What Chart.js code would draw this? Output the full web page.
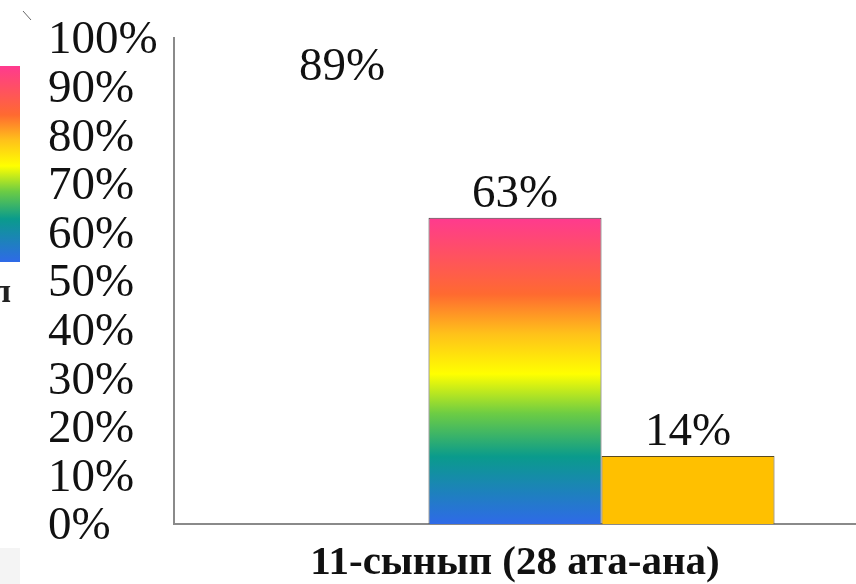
<!DOCTYPE html>
<html>
<head>
<meta charset="utf-8">
<script src="https://cdn.jsdelivr.net/npm/chart.js@4.4.1/dist/chart.umd.min.js"></script>
<style>
  html, body { margin: 0; padding: 0; background: #ffffff; }
  #wrap { position: relative; width: 856px; height: 584px; }
</style>
</head>
<body>
<div id="wrap"><canvas id="c" width="856" height="584"></canvas></div>
<script>
// ---- data ----
const categories = ['11-сынып (28 ата-ана)'];
const seriesHidden = [89];   // first bar (drawn white in the original)
const seriesRainbow = [63];
const seriesGold = [14];
const valueLabels = ['89%', '63%', '14%'];

const SERIF = "'Liberation Serif', 'Times New Roman', serif";

function rainbow(ctx) {
  const chart = ctx.chart;
  const y = chart.scales && chart.scales.y;
  if (!y || !chart.chartArea) return '#ff6a30';
  const top = y.getPixelForValue(seriesRainbow[ctx.dataIndex]);
  const bottom = y.getPixelForValue(0);
  const g = chart.ctx.createLinearGradient(0, bottom, 0, top);
  g.addColorStop(0.00, '#2f6ae8');
  g.addColorStop(0.22, '#0a9b8c');
  g.addColorStop(0.36, '#6ccc44');
  g.addColorStop(0.49, '#ffff00');
  g.addColorStop(0.62, '#ffc21a');
  g.addColorStop(0.75, '#ff6a30');
  g.addColorStop(1.00, '#ff3a8f');
  return g;
}

const valueLabelPlugin = {
  id: 'valueLabels',
  afterDatasetsDraw(chart) {
    const c = chart.ctx;
    c.save();
    c.font = '47px ' + SERIF;
    c.fillStyle = '#111111';
    c.textAlign = 'center';
    c.textBaseline = 'alphabetic';
    chart.data.datasets.forEach((ds, i) => {
      const meta = chart.getDatasetMeta(i);
      meta.data.forEach((bar) => {
        c.fillText(valueLabels[i], bar.x, bar.y - 11);
      });
    });
    c.restore();
  }
};

// cropped legend fragments visible at the left edge of the original picture
const edgePlugin = {
  id: 'edge',
  beforeDraw(chart) {
    const c = chart.ctx;
    c.save();
    const g = c.createLinearGradient(0, 262, 0, 66);
    g.addColorStop(0.00, '#2f6ae8');
    g.addColorStop(0.22, '#0a9b8c');
    g.addColorStop(0.36, '#6ccc44');
    g.addColorStop(0.49, '#ffff00');
    g.addColorStop(0.62, '#ffc21a');
    g.addColorStop(0.75, '#ff6a30');
    g.addColorStop(1.00, '#ff3a8f');
    c.fillStyle = g;
    c.fillRect(0, 66, 20, 196);
    c.fillStyle = '#f4f4f4';
    c.fillRect(0, 548, 20, 36);
    c.font = 'bold 34px ' + SERIF;
    c.fillStyle = '#222';
    c.textBaseline = 'alphabetic';
    c.fillText('л', -8, 302);
    c.strokeStyle = '#666';
    c.lineWidth = 1;
    c.beginPath();
    c.moveTo(23, 11); c.lineTo(31, 20);
    c.stroke();
    c.restore();
  }
};

new Chart(document.getElementById('c'), {
  type: 'bar',
  data: {
    labels: categories,
    datasets: [
      { data: seriesHidden, backgroundColor: 'rgba(255,255,255,0)', borderWidth: 0 },
      { data: seriesRainbow, backgroundColor: rainbow, borderColor: '#444444', borderWidth: 1 },
      { data: seriesGold, backgroundColor: '#ffc000', borderColor: '#5a4a20', borderWidth: 1 }
    ]
  },
  options: {
    responsive: false,
    animation: false,
    events: [],
    layout: { padding: { left: 48, top: 38, right: 0, bottom: 0 } },
    plugins: { legend: { display: false }, tooltip: { enabled: false } },
    datasets: { bar: { barPercentage: 1.0, categoryPercentage: 0.761 } },
    scales: {
      x: {
        grid: { display: false, drawTicks: false },
        border: { display: true, color: '#8a8a8a', width: 2 },
        ticks: {
          color: '#111111',
          font: { family: SERIF, size: 41, weight: 'bold' },
          padding: 15,
          maxRotation: 0
        },
        afterFit(scale) { scale.height = 60; }
      },
      y: {
        min: 0, max: 100,
        grid: { display: false, drawTicks: false },
        border: { display: true, color: '#8a8a8a', width: 2 },
        ticks: {
          stepSize: 10,
          autoSkip: false,
          labelOffset: 3,
          color: '#111111',
          crossAlign: 'far',
          font: { family: SERIF, size: 47 },
          callback: (v) => v + '%'
        },
        afterFit(scale) { scale.width = 126; }
      }
    }
  },
  plugins: [edgePlugin, valueLabelPlugin]
});
</script>
</body>
</html>
